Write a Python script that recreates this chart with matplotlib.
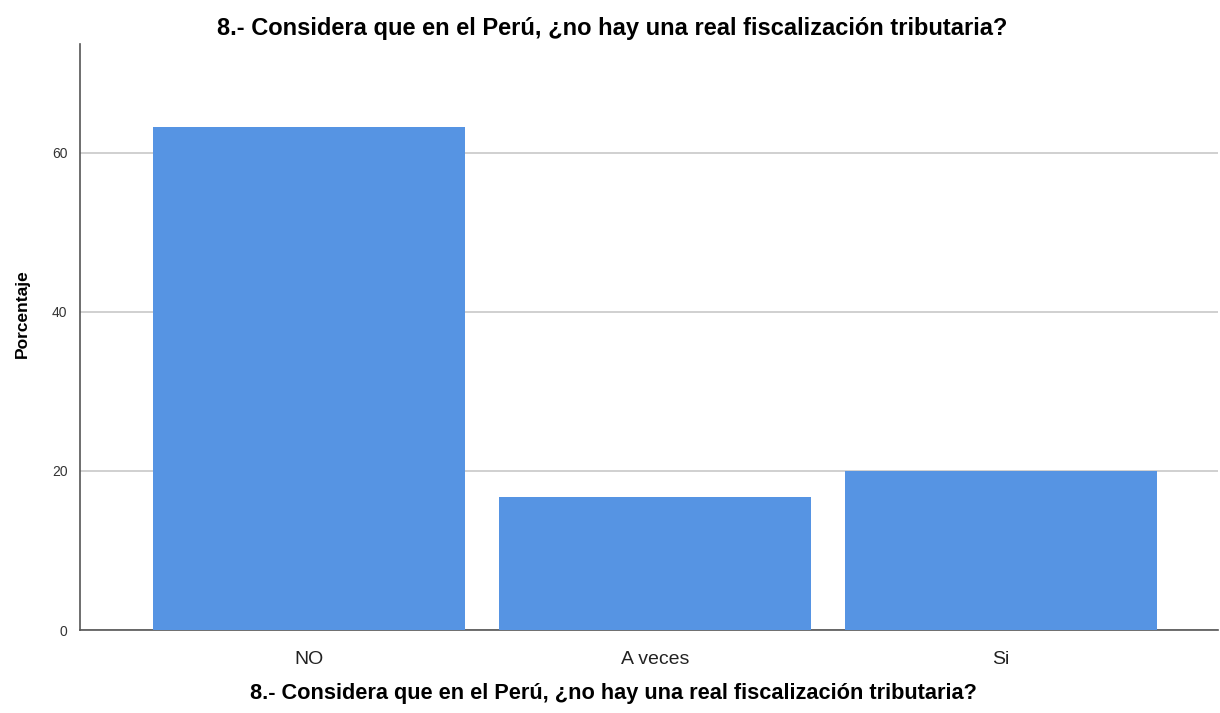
import matplotlib.pyplot as plt

categories = ["NO", "A veces", "Si"]
percentages = [63.3, 16.7, 20.0]
y_ticks = [0, 20, 40, 60]
title = "8.- Considera que en el Perú, ¿no hay una real fiscalización tributaria?"

plt.rcParams['font.family'] = ['Liberation Sans', 'DejaVu Sans']

fig = plt.figure(figsize=(12.2, 7.13), dpi=100, facecolor='white')
ax = fig.add_axes([80 / 1220, 1 - 630 / 713, 1138 / 1220, 586 / 713])

x = list(range(len(categories)))
ax.bar(x, percentages, width=0.9, color='#5694e3', zorder=3)

ax.set_xlim(-0.662, 2.627)
ax.set_ylim(0, 73.7)
ax.set_yticks(y_ticks)
ax.set_yticklabels([str(t) for t in y_ticks], fontsize=10, color='#333333')
ax.set_xticks(x)
ax.set_xticklabels(categories, fontsize=14, color='#222222')
ax.tick_params(axis='x', length=0, pad=15)
ax.tick_params(axis='y', length=0, pad=9)
ax.yaxis.grid(True, color='#c8c8c8', linewidth=1.2, zorder=0)

for side in ('top', 'right'):
    ax.spines[side].set_visible(False)
for side in ('left', 'bottom'):
    ax.spines[side].set_color('#555555')
    ax.spines[side].set_linewidth(1.2)

# y label, top title and bottom category title
fig.text(22 / 1220, 1 - 314 / 713, "Porcentaje", rotation=90, ha='center',
         va='center', fontsize=12.5, fontweight='bold')
fig.text(612 / 1220, 1 - 28 / 713, title, ha='center', va='center',
         fontsize=17, fontweight='bold')
fig.text(613 / 1220, 1 - 693 / 713, title, ha='center', va='center',
         fontsize=15.7, fontweight='bold')

fig.savefig("out.png", dpi=100, facecolor='white')
